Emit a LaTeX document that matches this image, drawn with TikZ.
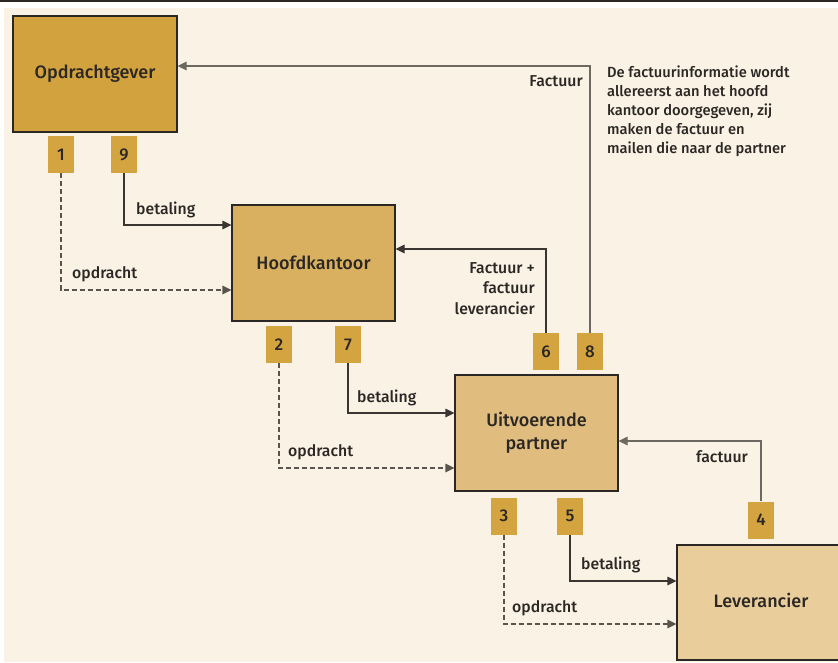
\documentclass[tikz,border=0pt]{standalone}
\usepackage{fontspec}
\setmainfont{Fira Sans}[UprightFont=* Medium]
\usetikzlibrary{arrows.meta}
\definecolor{bg}{HTML}{F9F2E5}
\definecolor{cA}{HTML}{D2A23F}
\definecolor{cB}{HTML}{D9AF60}
\definecolor{cC}{HTML}{E0BD7E}
\definecolor{cD}{HTML}{E9CD9B}
\definecolor{numc}{HTML}{D4A440}
\definecolor{ink}{HTML}{2B2724}
\definecolor{lineD}{HTML}{3A3530}
\definecolor{lineG}{HTML}{6E6862}
\definecolor{lineDash}{HTML}{5A544E}
\tikzset{
  bigbox/.style={draw=ink, line width=1.1pt, minimum width=163pt, minimum height=116pt, inner sep=0pt, align=center, text=ink, font=\fontsize{18}{22.5}\selectfont},
  numbox/.style={fill=numc, minimum width=26pt, minimum height=37pt, inner sep=0pt, text=ink, font=\fontsize{17}{18}\selectfont},
  lab/.style={inner sep=0pt, text=ink, font=\fontsize{15.8}{20.5}\selectfont},
  tip/.style={-{Triangle[length=9pt,width=8.5pt]}},
  conn/.style={tip, draw=lineD, line width=1.1pt},
  conng/.style={tip, draw=lineG, line width=1.1pt},
  conndash/.style={tip, draw=lineDash, line width=1.1pt, dash pattern=on 5pt off 3pt}
}
\begin{document}
\begin{tikzpicture}[x=1pt,y=-1pt]
\useasboundingbox (0,0) rectangle (838,662);
\fill[bg] (4,8) rectangle (838,662);
\fill[ink] (0,0) rectangle (838,1.8);
\begin{scope}
\clip (0,0) rectangle (838,662);
% main boxes
\node[bigbox, fill=cA, minimum width=164pt] (og) at (95,74) {Opdrachtgever};
\node[bigbox, fill=cB] (hk) at (313.5,263) {Hoofdkantoor};
\node[bigbox, fill=cC] (up) at (536.5,433) {Uitvoerende\\partner};
\node[bigbox, fill=cD, minimum width=165pt, minimum height=115pt] (lv) at (759.5,602.5) {};
\node[lab, font=\fontsize{18}{22}\selectfont] (lvt) at (761,600) {Leverancier};
% number boxes
\node[numbox] (n1) at (61,154.5) {1};
\node[numbox] (n9) at (124,154.5) {9};
\node[numbox] (n2) at (279,344.5) {2};
\node[numbox] (n7) at (348,344.5) {7};
\node[numbox] (n6) at (546,351.5) {6};
\node[numbox] (n8) at (590,351.5) {8};
\node[numbox] (n3) at (504,516) {3};
\node[numbox] (n5) at (570,516) {5};
\node[numbox] (n4) at (761,520) {4};
% connectors
\draw[conng] (n8.north) |- ([yshift=8pt]og.east);
\draw[conn] (n9.south) |- ([yshift=38pt]hk.west);
\draw[conndash] (n1.south) |- ([yshift=-27pt]hk.west);
\draw[conn] (n6.north) |- ([yshift=14pt]hk.east);
\draw[conn] (n7.south) |- ([yshift=20pt]up.west);
\draw[conndash] (n2.south) |- ([yshift=-35pt]up.west);
\draw[conng] (n4.north) |- ([yshift=-8pt]up.east);
\draw[conn] (n5.south) |- ([yshift=21.5pt]lv.west);
\draw[conndash] (n3.south) |- ([yshift=-21.5pt]lv.west);
\end{scope}
% labels
\node[lab, anchor=east] (l8) at (583,81) {Factuur};
\node[lab, anchor=west] (l9) at (136,210) {betaling};
\node[lab, anchor=west] (l1) at (72,274) {opdracht};
\node[lab, anchor=east, align=right] (l6) at (535,288.5) {Factuur +\\factuur\\leverancier};
\node[lab, anchor=west] (l7) at (357,398) {betaling};
\node[lab, anchor=west] (l2) at (288,452) {opdracht};
\node[lab, anchor=west] (l4) at (696,457) {factuur};
\node[lab, anchor=west] (l5) at (581,565) {betaling};
\node[lab, anchor=west] (l3) at (512,608) {opdracht};
\node[lab, anchor=north west, align=left, font=\fontsize{14.7}{19}\selectfont] (note) at (607,66) {De factuurinformatie wordt\\allereerst aan het hoofd\\kantoor doorgegeven, zij\\maken de factuur en\\mailen die naar de partner};
\end{tikzpicture}
\end{document}
